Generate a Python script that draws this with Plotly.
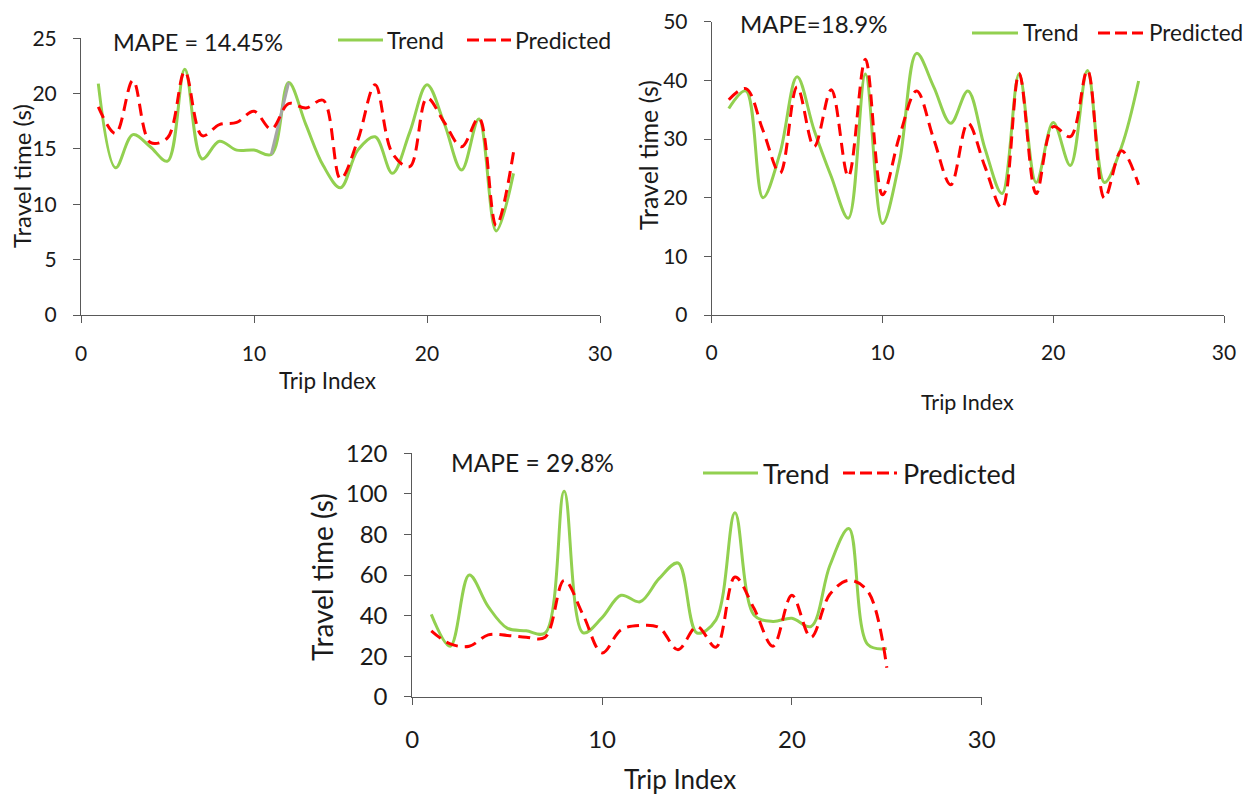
import plotly.graph_objects as go

# Trip indices shared by all three panels
trip = list(range(1, 26))

# Panel 1 (MAPE = 14.45%)
trend_1 = [20.9, 13.3, 16.3, 15.2, 13.9, 22.2, 14.1, 15.7, 14.9, 14.9, 14.5, 21.0, 17.2,
           13.5, 11.5, 14.9, 16.1, 12.8, 16.5, 20.8, 17.3, 13.1, 17.7, 7.6, 12.8]
pred_1 = [18.8, 16.4, 21.2, 15.6, 16.0, 22.0, 16.2, 17.2, 17.4, 18.4, 16.8, 19.1, 18.7,
          19.4, 12.3, 15.8, 20.8, 14.6, 13.4, 19.6, 17.4, 15.2, 17.8, 8.1, 14.7]

# Panel 2 (MAPE = 18.9%)
trend_2 = [35.2, 38.2, 20.0, 27.6, 40.6, 31.5, 23.6, 16.5, 41.1, 15.6, 26.2, 44.6, 38.9,
           32.7, 38.2, 28.4, 20.7, 41.1, 22.6, 32.8, 25.5, 41.7, 22.6, 28.7, 39.9]
pred_2 = [36.7, 38.6, 31.5, 24.2, 38.9, 28.7, 38.4, 23.6, 43.6, 20.5, 30.5, 38.2, 30.0,
          22.2, 32.7, 25.3, 18.2, 41.2, 20.7, 32.1, 30.4, 41.7, 19.9, 28.0, 22.2]

# Panel 3 (MAPE = 29.8%)
trend_3 = [40.6, 24.9, 60.0, 44.4, 33.8, 32.5, 31.4, 101.3, 31.5, 39.0, 50.0, 46.8, 58.2,
           65.9, 31.4, 37.9, 90.7, 40.3, 37.1, 38.7, 34.6, 64.7, 82.9, 25.7, 23.7]
pred_3 = [32.5, 26.0, 24.9, 30.5, 30.2, 29.3, 29.3, 57.4, 40.3, 21.6, 33.0, 35.1, 34.1,
          23.2, 34.6, 24.4, 59.0, 43.6, 24.9, 50.0, 29.3, 50.5, 57.4, 52.0, 14.3]

series_names = ["Trend", "Predicted"]
mape_labels = ["MAPE = 14.45%", "MAPE=18.9%", "MAPE = 29.8%"]
y_ranges = [[0, 25], [0, 50], [0, 120]]
y_dticks = [5, 10, 20]

GREEN = "#92D050"
RED = "#FF0000"
GRAY = "#A6A6A6"
AXIS = "#595959"
TEXT = "#1a1a1a"
FONT = "Lato"
DASH = "12px,7px"

W, H = 1256, 794


def px_x(v):
    return v / W


def px_y(v):
    return 1 - v / H


fig = go.Figure()

series = [(trend_1, pred_1), (trend_2, pred_2), (trend_3, pred_3)]
for i, (tr, pr) in enumerate(series):
    ax = "" if i == 0 else str(i + 1)
    fig.add_trace(go.Scatter(
        x=trip, y=tr, mode="lines", name=series_names[0], showlegend=False,
        line=dict(color=GREEN, width=3, shape="spline", smoothing=1.0),
        xaxis="x" + ax, yaxis="y" + ax,
    ))
    if i == 0:
        # segment between trips 11 and 12 drawn in gray
        fig.add_trace(go.Scatter(
            x=trip[10:12], y=tr[10:12], mode="lines", showlegend=False,
            line=dict(color=GRAY, width=3),
            xaxis="x", yaxis="y",
        ))
    fig.add_trace(go.Scatter(
        x=trip, y=pr, mode="lines", name=series_names[1], showlegend=False,
        line=dict(color=RED, width=3, dash=DASH, shape="spline", smoothing=1.0),
        xaxis="x" + ax, yaxis="y" + ax,
    ))

# plot-area boxes in pixels: (left, right, top, bottom)
boxes = [(81, 600, 38.3, 315), (711.7, 1224, 21.7, 315), (412.3, 981.7, 453.3, 696.7)]
tick_sizes = [21, 21, 24]
x_standoff = [13, 12, 14]
y_standoff = [12, 12, 12]

layout = dict(
    width=W, height=H,
    margin=dict(l=0, r=0, t=0, b=0, autoexpand=False),
    paper_bgcolor="white", plot_bgcolor="white",
    font=dict(family=FONT, color=TEXT),
    showlegend=False,
)

for i, (l, r, t, b) in enumerate(boxes):
    ax = "" if i == 0 else str(i + 1)
    layout["xaxis" + ax] = dict(
        domain=[px_x(l), px_x(r)], range=[0, 30], dtick=10,
        anchor="y" + ax, showline=True, linecolor=AXIS, linewidth=1,
        ticks="outside", ticklen=7, tickcolor=AXIS,
        tickfont=dict(size=tick_sizes[i], family=FONT, color=TEXT),
        showgrid=False, zeroline=False, ticklabelstandoff=x_standoff[i],
        fixedrange=True, automargin=False,
    )
    layout["yaxis" + ax] = dict(
        domain=[px_y(b), px_y(t)], range=y_ranges[i], dtick=y_dticks[i],
        anchor="x" + ax, showline=True, linecolor=AXIS, linewidth=1,
        ticks="outside", ticklen=7, tickcolor=AXIS,
        tickfont=dict(size=tick_sizes[i], family=FONT, color=TEXT),
        showgrid=False, zeroline=False, ticklabelstandoff=y_standoff[i],
        fixedrange=True, automargin=False,
    )

fig.update_layout(**layout)

annotations = []
shapes = []


def text_at(txt, x, y, size, angle=0, anchor="center"):
    annotations.append(dict(text=txt, x=px_x(x), y=px_y(y), xref="paper", yref="paper",
                            xanchor=anchor, yanchor="middle", showarrow=False,
                            textangle=angle, font=dict(size=size, family=FONT, color=TEXT)))


# MAPE labels
for txt, (x, y, s) in zip(mape_labels, [(198, 42, 23.5), (813, 24, 24), (532, 462, 24.5)]):
    text_at(txt, x, y, s)

# axis titles
for (x, y, s) in [(21, 176, 24), (648, 155, 25), (322, 577, 28)]:
    text_at("Travel time (s)", x, y, s, angle=-90)
for (x, y, s) in [(327, 380, 22.5), (967, 402, 21.5), (680, 779, 26)]:
    text_at("Trip Index", x, y, s)

# legend keys: (trend line x0, x1, text x, pred line x0, x1, text x, y, text size)
legend_keys = [
    (338, 383, 385, 467, 511, 513, 40, 23),
    (972, 1018, 1021, 1098, 1143, 1147, 33, 22.5),
    (703, 758, 761, 843, 897, 901, 473, 27),
]
for (g0, g1, gt, r0, r1, rt, y, s) in legend_keys:
    shapes.append(dict(type="line", xref="paper", yref="paper",
                       x0=px_x(g0), x1=px_x(g1), y0=px_y(y), y1=px_y(y),
                       line=dict(color=GREEN, width=3)))
    shapes.append(dict(type="line", xref="paper", yref="paper",
                       x0=px_x(r0), x1=px_x(r1), y0=px_y(y), y1=px_y(y),
                       line=dict(color=RED, width=3, dash="12px,5px")))
    text_at(series_names[0], gt, y, s, anchor="left")
    text_at(series_names[1], rt, y, s, anchor="left")

fig.update_layout(annotations=annotations, shapes=shapes)

fig.write_html("out.html")
